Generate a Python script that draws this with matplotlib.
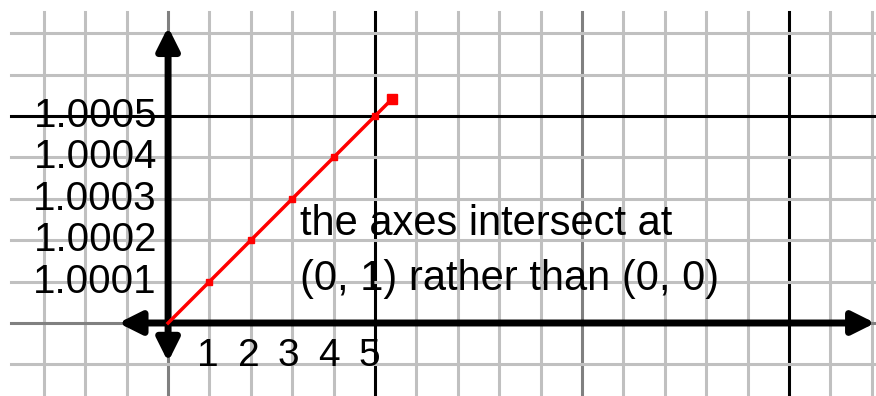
import numpy as np
from matplotlib import pyplot as plt

# the plotted line (x, y) and the tick labels
line_x = [0, 1, 2, 3, 4, 5, 5.4]
line_y = [1.0, 1.0001, 1.0002, 1.0003, 1.0004, 1.0005, 1.00054]
x_ticks = [1, 2, 3, 4, 5]
y_ticks = [1.0001, 1.0002, 1.0003, 1.0004, 1.0005]
y_tick_labels = ['1.0001', '1.0002', '1.0003', '1.0004', '1.0005']
note_lines = ['the axes intersect at', '(0, 1) rather than (0, 0)']

U = 0.0001  # one grid cell on the y axis

fig = plt.figure(figsize=(8.76, 3.96), dpi=100)
ax = fig.add_axes([0, 0, 1, 1])
ax.set_axis_off()
ax.set_xlim(-4.06, 17.1)
ax.set_ylim(1 - 1.763 * U, 1 + 7.80 * U)

font = 'Liberation Sans'
light = '#c0c0c0'
top = 1 + 7.51 * U
left = -3.79

# graph paper
for gx in range(-3, 18):
    if gx in (5, 15):
        c = 'black'
    elif gx in (0, 10):
        c = '#808080'
    else:
        c = light
    ax.plot([gx, gx], [1 - 2 * U, top], color=c, lw=2.2, zorder=1)
for gy in range(-1, 8):
    if gy == 5:
        c = 'black'
    elif gy == 0:
        c = '#808080'
    else:
        c = light
    ax.plot([left, 18], [1 + gy * U, 1 + gy * U], color=c, lw=2.2, zorder=1)

# thick axes with arrow heads
arrow = dict(arrowstyle='<|-|>', lw=5, color='black', mutation_scale=34,
             shrinkA=0, shrinkB=0)
ax.annotate('', xy=(0, 1 + 7.15 * U), xytext=(0, 1 - 0.94 * U),
            arrowprops=arrow, zorder=3)
ax.annotate('', xy=(17.08, 1), xytext=(-1.2, 1), arrowprops=arrow, zorder=3)

# red line
ax.plot(line_x, line_y, color='#ff0000', lw=2.5, zorder=4)
ax.plot(line_x[1:-1], line_y[1:-1], 's', color='#ff0000', ms=4.5, zorder=4)
ax.plot(line_x[-1:], line_y[-1:], 's', color='#ff0000', ms=7, zorder=4)

# tick labels
for v, lab in zip(y_ticks, y_tick_labels):
    ax.text(-0.27, v, lab, ha='right', va='center', fontsize=29,
            family=font, zorder=5)
for v in x_ticks:
    ax.text(v - 0.03 * v, 1 - 0.8 * U, str(v), ha='center', va='center',
            fontsize=28, family=font, zorder=5)

# note
ax.text(3.19, 1 + 2.13 * U, note_lines[0], ha='left', va='baseline',
        fontsize=30, family=font, zorder=5)
ax.text(3.19, 1 + 0.80 * U, note_lines[1], ha='left', va='baseline',
        fontsize=30, family=font, zorder=5)

fig.savefig('out.png', dpi=100, facecolor='white')
